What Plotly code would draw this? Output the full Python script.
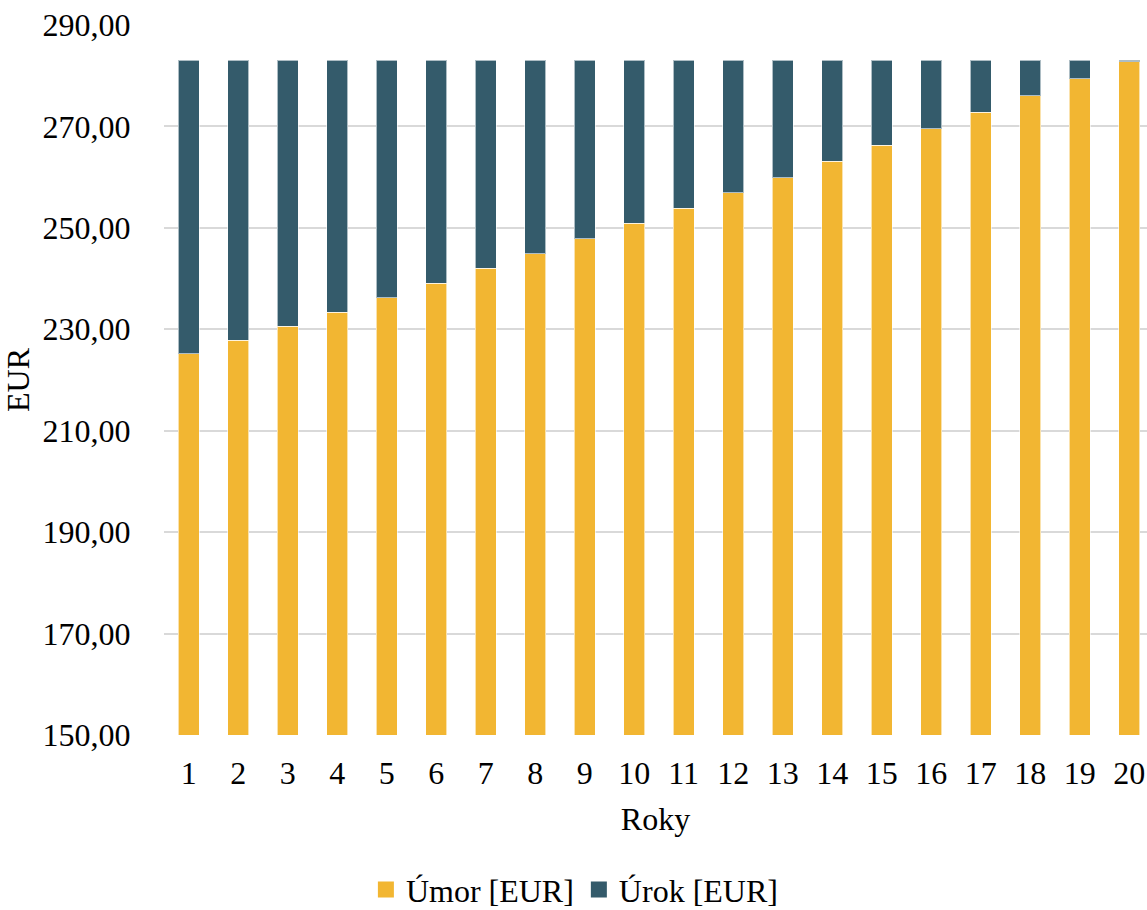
import plotly.graph_objects as go

roky = list(range(1, 21))
umor = [225.2, 227.8, 230.6, 233.4, 236.2, 239.1, 242.0, 244.9, 247.9, 250.9,
        253.9, 256.9, 259.9, 263.1, 266.25, 269.5, 272.8, 276.05, 279.4, 282.75]
urok = [57.83, 55.23, 52.43, 49.63, 46.83, 43.93, 41.03, 38.13, 35.13, 32.13,
        29.13, 26.13, 23.13, 19.93, 16.78, 13.53, 10.23, 6.98, 3.63, 0.28]
yticks = [150, 170, 190, 210, 230, 250, 270, 290]
ytext = ["150,00", "170,00", "190,00", "210,00", "230,00", "250,00", "270,00", "290,00"]

GOLD = "#F2B632"
SLATE = "#345B6B"
FONT = "Liberation Serif"
FS = 32

fig = go.Figure()
fig.add_trace(go.Bar(x=roky, y=umor, name="Úmor [EUR]", marker_color=GOLD,
                     marker_line=dict(color="rgba(255,255,255,0.6)", width=1),
                     width=0.42, showlegend=False))
fig.add_trace(go.Bar(x=roky, y=urok, name="Úrok [EUR]", marker_color=SLATE,
                     marker_line=dict(color="rgba(255,255,255,0.6)", width=1),
                     width=0.42, showlegend=False))
# legend entries with larger square swatches
fig.add_trace(go.Scatter(x=[None], y=[None], mode="markers", name="Úmor [EUR]",
                         marker=dict(symbol="square", size=18, color=GOLD)))
fig.add_trace(go.Scatter(x=[None], y=[None], mode="markers", name="Úrok [EUR]",
                         marker=dict(symbol="square", size=18, color=SLATE)))

fig.update_layout(
    width=1147, height=910,
    barmode="stack",
    plot_bgcolor="white", paper_bgcolor="white",
    margin=dict(l=164, r=0, t=25, b=175, autoexpand=False),
    font=dict(family=FONT, size=FS, color="#000000"),
    xaxis=dict(range=[0.5, 20.36], tickmode="array", tickvals=roky,
               ticks="outside", ticklen=10, tickcolor="rgba(0,0,0,0)",
               showgrid=False, zeroline=False, showline=False, automargin=False,
               title=dict(text="Roky", standoff=17, font=dict(size=FS))),
    yaxis=dict(range=[150, 290], tickmode="array", tickvals=yticks, ticktext=ytext,
               ticks="outside", ticklen=26, tickcolor="rgba(0,0,0,0)",
               showgrid=True, gridcolor="#D9D9D9", gridwidth=2, zeroline=False,
               automargin=False,
               title=dict(text="EUR", standoff=4, font=dict(size=FS))),
    legend=dict(orientation="h", x=0.418, xanchor="center", y=-0.218, yanchor="middle",
                font=dict(size=FS), traceorder="normal", itemwidth=30),
)

fig.write_html("out.html", config={"displayModeBar": False},
               post_script="document.body.style.margin='0';document.body.style.overflow='hidden';")
